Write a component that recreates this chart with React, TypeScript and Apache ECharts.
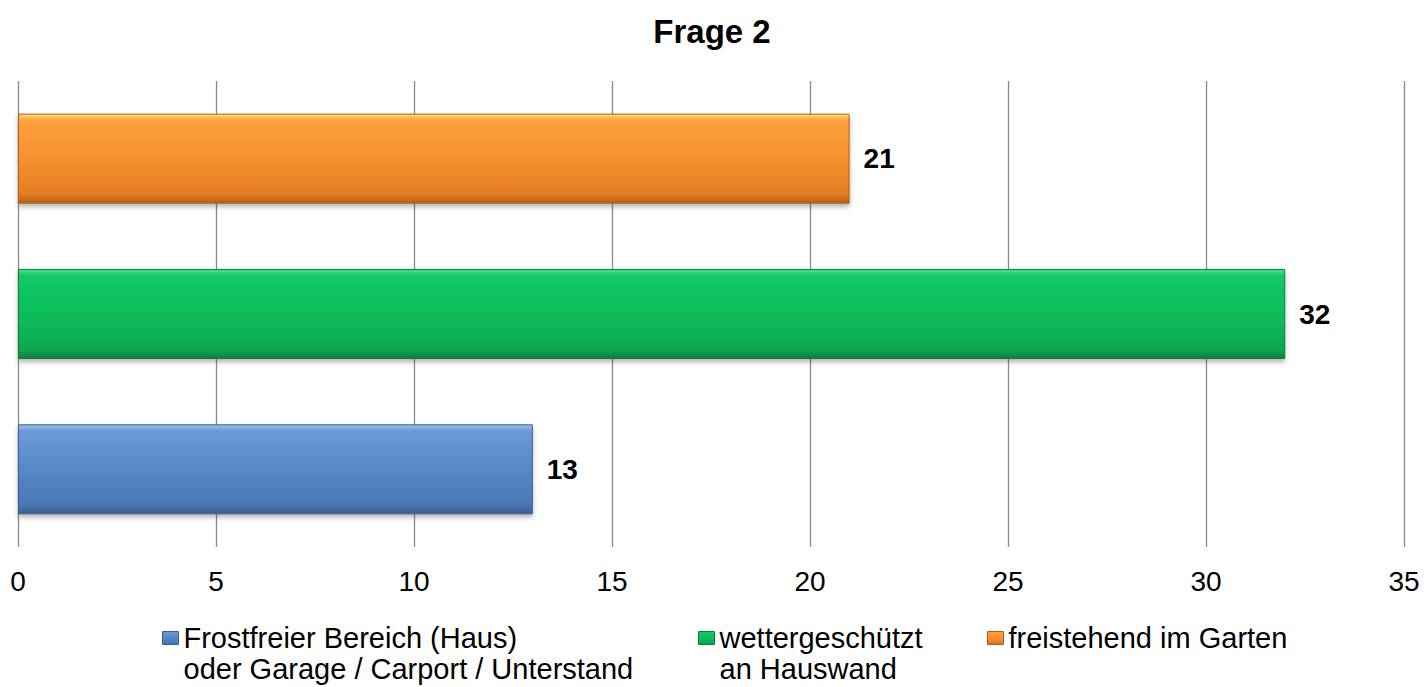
import React, { useEffect, useRef } from "react";
import * as echarts from "echarts";

const title = "Frage 2";
const categories = ["Frostfreier", "wettergeschützt", "freistehend"];
const seriesNames = [
  "Frostfreier Bereich (Haus)\noder Garage / Carport / Unterstand",
  "wettergeschützt\nan Hauswand",
  "freistehend im Garten",
];
const seriesValues = [13, 32, 21];
const xTicks = { min: 0, max: 35, interval: 5 };

const FONT = "'Liberation Sans', Arial, Helvetica, sans-serif";

const palettes = [
  { top: "#9cc0ec", light: "#6b9ad6", main: "#5588c8", dark: "#4a78b4", edge: "#385f92" },
  { top: "#4ee494", light: "#14c866", main: "#0abd5a", dark: "#09a84f", edge: "#077f3c" },
  { top: "#fde07a", light: "#fda03c", main: "#f7902f", dark: "#e47c22", edge: "#b45e17" },
];

const grad = (p: any) =>
  new echarts.graphic.LinearGradient(0, 0, 0, 1, [
    { offset: 0, color: p.top },
    { offset: 0.07, color: p.light },
    { offset: 0.5, color: p.main },
    { offset: 0.9, color: p.dark },
    { offset: 1, color: p.edge },
  ]);

export default function App() {
  const ref = useRef<HTMLDivElement>(null);
  useEffect(() => {
    if (!ref.current) return;
    const chart = echarts.init(ref.current, undefined, { renderer: "svg" });
    const series = seriesNames.map((name, i) => ({
      name,
      type: "bar",
      stack: "all",
      barWidth: 90,
      data: categories.map((_, j) => (j === i ? seriesValues[i] : "-")),
      itemStyle: {
        color: grad(palettes[i]),
        borderColor: palettes[i].edge,
        borderWidth: 1,
        shadowColor: "rgba(0,0,0,0.3)",
        shadowBlur: 5,
        shadowOffsetY: 3,
      },
      label: {
        show: true,
        position: "right",
        distance: 14,
        fontFamily: FONT,
        fontSize: 28,
        fontWeight: "bold",
        color: "#000",
      },
    }));
    const legendLeft = [157, 693, 982];
    const LH = 31;
    const lineCenter = 633;
    const legends = seriesNames.map((name, i) => {
      const multi = name.includes("\n");
      return {
        left: legendLeft[i],
        top: multi ? lineCenter - LH - LH / 2 : lineCenter - LH / 2,
        orient: "horizontal",
        itemWidth: 16,
        itemHeight: 13,
        itemGap: 0,
        selectedMode: false,
        formatter: (n: string) => (n.includes("\n") ? "\n" + n : n),
        textStyle: {
          fontFamily: FONT,
          fontSize: 29,
          lineHeight: LH,
          color: "#000",
        },
        data: [
          {
            name,
            icon: "rect",
            itemStyle: { color: grad(palettes[i]), borderColor: palettes[i].edge, borderWidth: 1 },
          },
        ],
      };
    });
    chart.setOption({
      animation: false,
      backgroundColor: "#fff",
      title: {
        text: title,
        left: "center",
        top: 10,
        textStyle: { fontFamily: FONT, fontSize: 33, fontWeight: "bold", color: "#000" },
      },
      legend: legends,
      grid: { left: 18, right: 20, top: 81, bottom: 140, containLabel: false },
      xAxis: {
        type: "value",
        min: xTicks.min,
        max: xTicks.max,
        interval: xTicks.interval,
        axisLine: { show: false },
        axisTick: { show: false },
        splitLine: { show: true, lineStyle: { color: "#8a8a8a", width: 1.3 } },
        axisLabel: { fontFamily: FONT, fontSize: 28, color: "#000", margin: 20 },
      },
      yAxis: {
        type: "category",
        data: categories,
        axisLine: { show: false },
        axisTick: { show: false },
        axisLabel: { show: false },
      },
      series,
    });
    return () => chart.dispose();
  }, []);
  return <div ref={ref} style={{ width: 1424, height: 687, position: "absolute", left: 0, top: 0 }} />;
}
